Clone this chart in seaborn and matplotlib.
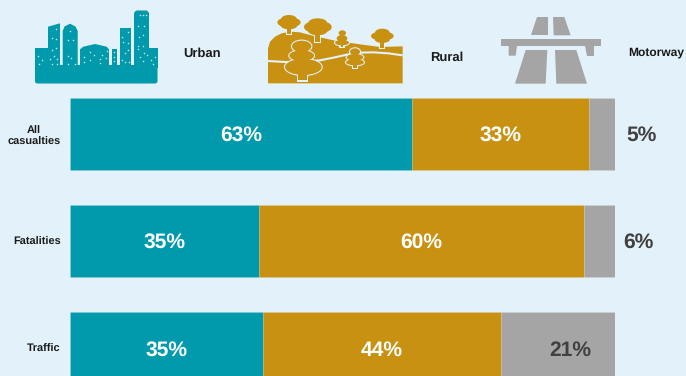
import matplotlib
matplotlib.use("Agg")
import matplotlib.pyplot as plt
from matplotlib.patches import Polygon, Ellipse, Rectangle, FancyBboxPatch
import numpy as np
import seaborn as sns

categories = ["All\ncasualties", "Fatalities", "Traffic"]
urban = [62.7, 34.7, 35.3]
rural = [32.6, 59.6, 43.75]
motorway = [4.7, 5.7, 20.95]
urban_labels = ["63%", "35%", "35%"]
rural_labels = ["33%", "60%", "44%"]
motorway_labels = ["5%", "6%", "21%"]

TEAL = "#009AAC"
GOLD = "#C89112"
GRAY = "#A5A5A5"
BG = "#E3F2FA"
DARK = "#404040"
INK = "#1A1A1A"
W, H = 686, 376

sns.set_theme(style="white")
plt.rcParams["font.family"] = ["Liberation Sans", "DejaVu Sans"]
plt.rcParams["font.weight"] = "bold"
plt.rcParams["text.hinting"] = "no_hinting"
plt.rcParams["text.hinting_factor"] = 1

fig = plt.figure(figsize=(W / 100, H / 100), dpi=100, facecolor=BG)
ax = fig.add_axes([70.2 / W, 0, 544.8 / W, (376 - 80.5) / H], facecolor=BG)

left2 = np.array(urban)
left3 = left2 + np.array(rural)
edge = dict(edgecolor=(1, 1, 1, 0.12), linewidth=0.5, width=72 / 107, orient="h")
sns.barplot(x=urban, y=categories, color=TEAL, saturation=1, ax=ax, **edge)
sns.barplot(x=rural, y=categories, left=left2, color=GOLD, saturation=1, ax=ax, **edge)
sns.barplot(x=motorway, y=categories, left=left3, color=GRAY, saturation=1, ax=ax, **edge)

ax.set_xlim(0, 100)
ax.set_ylim((376 - 134) / 107, -0.5)
ax.xaxis.set_visible(False)
ax.set_xlabel("")
ax.set_ylabel("")
sns.despine(ax=ax, left=True, bottom=True)
ax.tick_params(axis="y", length=0, pad=6.8)
for t in ax.get_yticklabels():
    t.set_fontsize(8.0)
    t.set_fontweight("bold")
    t.set_color(INK)
    t.set_multialignment("center")
    t.set_linespacing(1.2)

val_fs = 15
gray_dx = [39.5, 38.5, 12]
for i in range(3):
    dy = 0.012 if i < 2 else 0.02
    ax.text(urban[i] / 2, i + dy, urban_labels[i], color="white", fontsize=val_fs,
            fontweight="bold", ha="center", va="center")
    ax.text(left2[i] + rural[i] / 2, i + dy, rural_labels[i], color="white", fontsize=val_fs,
            fontweight="bold", ha="center", va="center")
    ax.annotate(motorway_labels[i], (left3[i] + motorway[i] / 2, i + dy), xytext=(gray_dx[i], 0),
                textcoords="offset pixels", color=DARK, fontsize=val_fs, fontweight="bold",
                ha="center", va="center", annotation_clip=False)

# Decorative icons and headers, in pixel coordinates of the picture
ov = fig.add_axes([0, 0, 1, 1], facecolor="none")
ov.set_xlim(0, W)
ov.set_ylim(H, 0)
ov.axis("off")

def poly(pts, color, z=2):
    ov.add_patch(Polygon(pts, closed=True, facecolor=color, edgecolor="none", zorder=z))

# City
ov.add_patch(FancyBboxPatch((36, 66), 120.5, 16.5, boxstyle="round,pad=1,rounding_size=2.5",
                            facecolor=TEAL, edgecolor="none", zorder=2))
poly([(35, 48), (48, 48), (48, 68), (35, 68)], TEAL)
poly([(48, 65), (48, 26.7), (60, 23.3), (60, 65)], TEAL)
poly([(62.7, 65), (62.7, 31), (64.5, 26.5), (70, 23.7), (75.5, 26.5), (77.7, 31), (77.7, 65)], TEAL)
poly([(80, 65), (80, 49.3), (83.3, 46.7), (95, 44), (106.7, 46.7), (109, 49.3), (109, 65)], TEAL)
poly([(112, 65), (112, 49), (117, 49), (117, 65)], TEAL)
poly([(120, 65), (120, 28), (131, 28), (131, 65)], TEAL)
poly([(134, 65), (134, 13), (136, 10.5), (147, 10.5), (149, 13), (149, 65)], TEAL)
poly([(149, 48), (157.5, 48), (157.5, 68), (149, 68)], TEAL)

windows_z = [
    (113, 168), (125, 180), (118, 192),
    (167, 88), (155, 115), (167, 116), (167, 143), (155, 150), (163, 168), (172, 178),
    (150, 178), (155, 192), (172, 192), (210, 92), (205, 120), (218, 120), (205, 168),
    (213, 175), (205, 192), (225, 192), (270, 155), (252, 172), (282, 165), (270, 180),
    (305, 165), (320, 152), (318, 175), (300, 178), (300, 188), (252, 185), (343, 155),
    (343, 170), (343, 183), (367, 110), (383, 95), (370, 125), (383, 130), (383, 150),
    (375, 160), (367, 180), (375, 186), (388, 186), (420, 45), (430, 45), (438, 45),
    (415, 78), (432, 78), (428, 104), (418, 110), (415, 138), (430, 138), (415, 148),
    (432, 158), (420, 170), (440, 165), (430, 184), (452, 180), (465, 170), (458, 192),
]
ov.scatter([x / 3 for x, _ in windows_z], [y / 3 for _, y in windows_z], s=1.3,
           color="#BFE4EC", linewidths=0, zorder=3)

# Rural
def rz(x, y):
    return (260 + x / 3, 5 + y / 3)

hill = [(24, 235), (24, 130), (30, 110), (45, 95), (65, 85), (90, 80), (120, 82), (150, 90),
        (185, 98), (220, 106), (260, 112), (300, 118), (360, 126), (428, 124), (428, 235)]
poly([rz(*p) for p in hill], GOLD)
road = [(24, 168), (75, 171), (130, 170), (180, 166), (220, 158), (260, 149), (300, 143),
        (340, 142), (385, 145), (428, 151)]
xs, ys = zip(*[rz(*p) for p in road])
ov.plot(xs, ys, color=BG, lw=1.5, zorder=3, solid_capstyle="butt")

def tree(blobs, trunk, outline=True, z=4):
    cx, y0, y1, tw = trunk
    if outline:
        for (x, y, a, b) in blobs:
            ov.add_patch(Ellipse(rz(x, y), 2 * a / 3 + 2.2, 2 * b / 3 + 2.2, facecolor=BG, edgecolor="none", zorder=z))
        a0, b0 = rz(cx - tw - 4, y0), rz(cx + tw + 4, y1 + 4)
        ov.add_patch(Rectangle(a0, b0[0] - a0[0], b0[1] - a0[1], facecolor=BG, edgecolor="none", zorder=z))
    for (x, y, a, b) in blobs:
        ov.add_patch(Ellipse(rz(x, y), 2 * a / 3, 2 * b / 3, facecolor=GOLD, edgecolor="none", zorder=z + 0.5))
    a0, b0 = rz(cx - tw, y0), rz(cx + tw, y1)
    ov.add_patch(Rectangle(a0, b0[0] - a0[0], b0[1] - a0[1], facecolor=GOLD, edgecolor="none", zorder=z + 0.5))

def crown_trunk(cx, y0, y1, tw):
    # light notch where a trunk meets the hill
    a0, b0 = rz(cx - tw - 4, y0), rz(cx + tw + 4, y1 + 3)
    ov.add_patch(Rectangle(a0, b0[0] - a0[0], b0[1] - a0[1], facecolor=BG, edgecolor="none", zorder=3.5))

crown_trunk(87, 78, 88, 5)
crown_trunk(173, 92, 110, 6)
crown_trunk(367, 118, 130, 5)
tree([(87, 43, 24, 13), (72, 52, 20, 12), (102, 52, 20, 12), (87, 60, 26, 13)], (87, 60, 88, 6), outline=False)
tree([(173, 53, 28, 13), (155, 66, 23, 15), (192, 66, 23, 15), (173, 76, 30, 15)], (173, 80, 110, 7), outline=False)
tree([(367, 83, 22, 12), (352, 93, 19, 11), (382, 93, 19, 11), (367, 103, 23, 11)], (367, 104, 130, 6), outline=False)
tree([(247, 84, 11, 8), (246, 100, 16, 10), (246, 113, 21, 8)], (246, 112, 125, 4))
tree([(125, 124, 29, 17), (125, 152, 37, 16), (130, 186, 55, 24)], (128, 195, 226, 13))
tree([(285, 140, 15, 10), (285, 157, 25, 10), (285, 172, 27, 9)], (285, 172, 188, 5))

# Motorway
def mz(pts):
    return [(343 + x / 3, y / 3) for x, y in pts]

poly(mz([(582, 51), (615, 51), (615, 106), (564, 106)]), GRAY)
poly(mz([(630, 51), (664, 51), (683, 106), (632, 106)]), GRAY)
poly(mz([(473, 118), (775, 118), (775, 138), (473, 138)]), GRAY)
poly(mz([(497, 138), (522, 138), (518, 167), (497, 167)]), GRAY)
poly(mz([(727, 138), (752, 138), (752, 167), (733, 167)]), GRAY)
poly(mz([(548, 150), (613, 150), (608, 251), (516, 251)]), GRAY)
poly(mz([(636, 150), (700, 150), (732, 251), (640, 251)]), GRAY)

head = dict(fontsize=9.1, fontweight="bold", color=INK, va="center")
ov.text(201.7, 54, "Urban", ha="center", **head)
ov.text(447, 57.7, "Rural", ha="center", **head)
ov.text(628.2, 52.7, "Motorway", ha="left", fontsize=8.7, fontweight="bold", color=INK, va="center")

fig.savefig("out.png", dpi=100, facecolor=BG)
